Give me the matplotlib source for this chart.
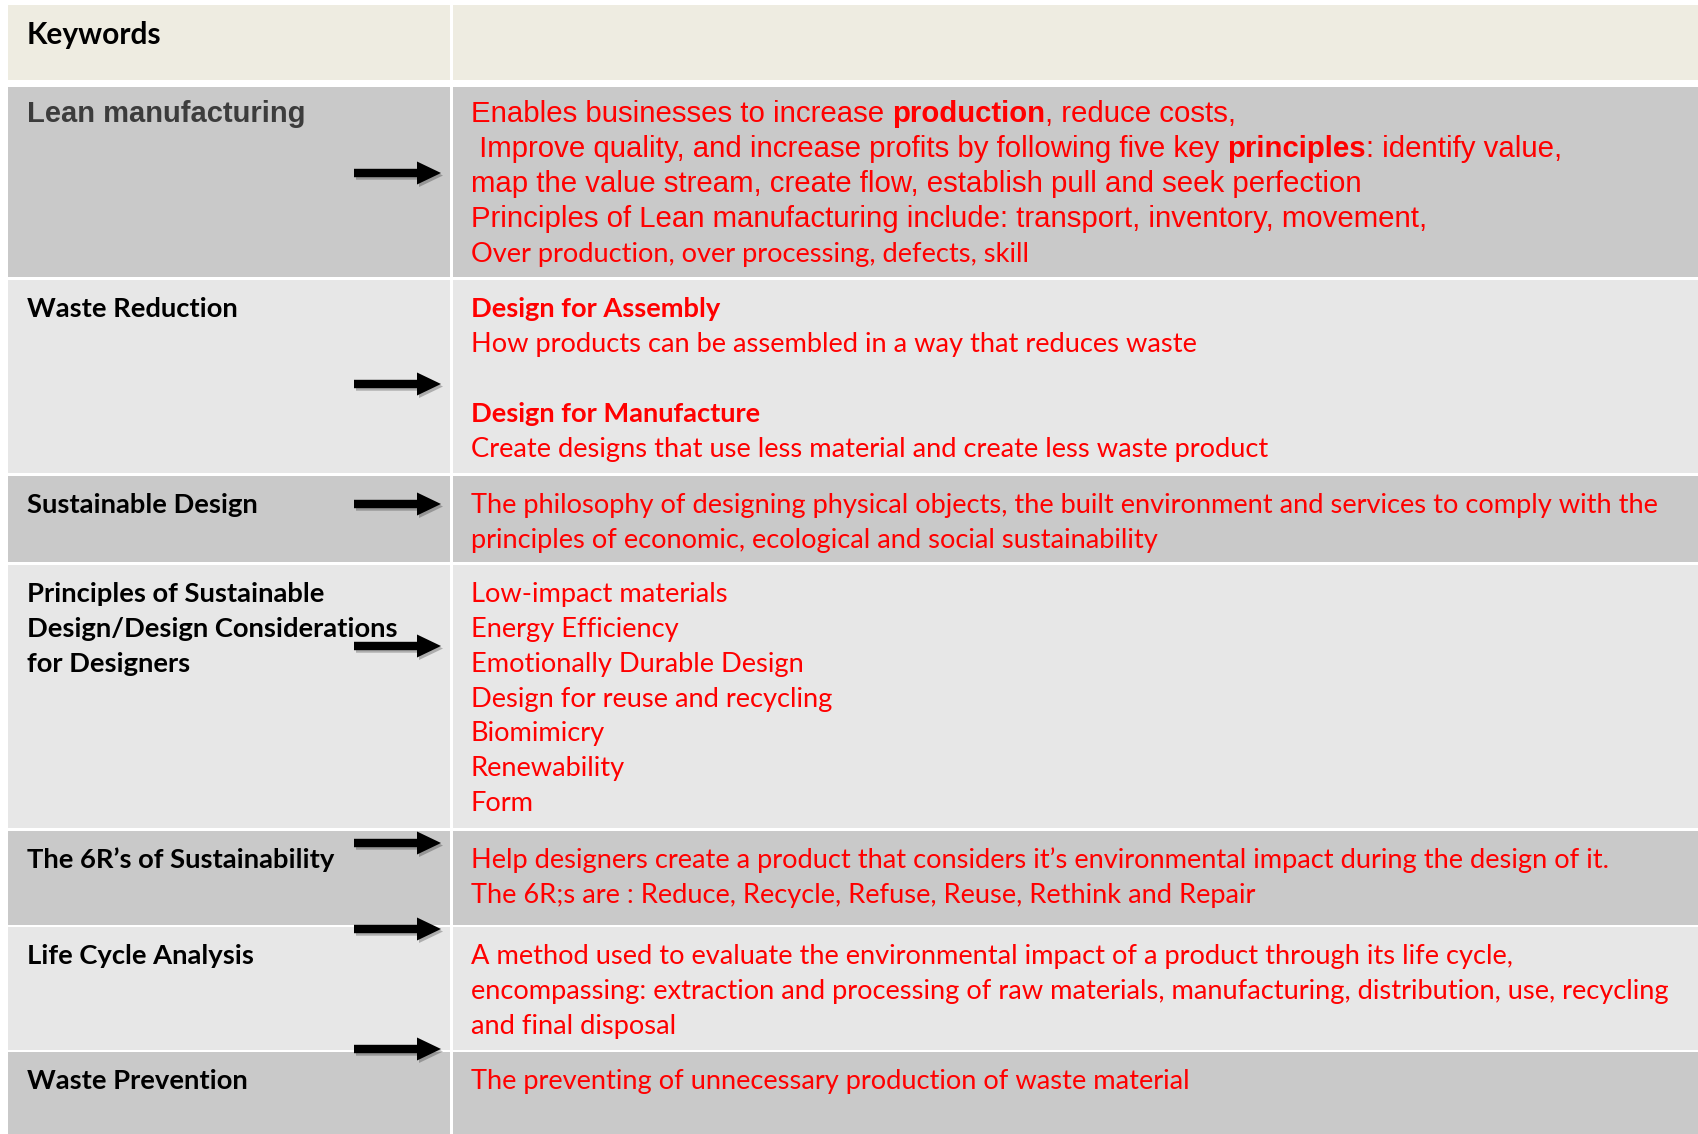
import matplotlib
matplotlib.use("Agg")
import matplotlib.pyplot as plt
from matplotlib.patches import Rectangle, Polygon

# ---------------- data ----------------
header_label = "Keywords"
keywords = [
    "Lean manufacturing",
    "Waste Reduction",
    "Sustainable Design",
    "Principles of Sustainable\nDesign/Design Considerations\nfor Designers",
    "The 6R\u2019s of Sustainability",
    "Life Cycle Analysis",
    "Waste Prevention",
]
# ** marks bold runs
descriptions = [
    ["Enables businesses to increase **production**, reduce costs,",
     " Improve quality, and increase profits by following five key **principles**: identify value,",
     "map the value stream, create flow, establish pull and seek perfection",
     "Principles of Lean manufacturing include: transport, inventory, movement,",
     "Over production, over processing, defects, skill"],
    ["**Design for Assembly**",
     "How products can be assembled in a way that reduces waste",
     "",
     "**Design for Manufacture**",
     "Create designs that use less material and create less waste product"],
    ["The philosophy of designing physical objects, the built environment and services to comply with the",
     "principles of economic, ecological and social sustainability"],
    ["Low-impact materials", "Energy Efficiency", "Emotionally Durable Design",
     "Design for reuse and recycling", "Biomimicry", "Renewability", "Form"],
    ["Help designers create a product that considers it\u2019s environmental impact during the design of it.",
     "The 6R;s are : Reduce, Recycle, Refuse, Reuse, Rethink and Repair"],
    ["A method used to evaluate the environmental impact of a product through its life cycle,",
     "encompassing: extraction and processing of raw materials, manufacturing, distribution, use, recycling",
     "and final disposal"],
    ["The preventing of unnecessary production of waste material"],
]
# font used per description line: "arial" or "calibri"
line_fonts = [
    ["arial", "arial", "arial", "arial", "calibri"],
    ["calibri"] * 5, ["calibri"] * 2, ["calibri"] * 7,
    ["calibri"] * 2, ["calibri"] * 3, ["calibri"],
]

# ---------------- layout / style ----------------
W, H = 1698, 1134
HEADER = (5, 80)
ROWS = [(87, 277), (280, 473), (476, 562), (565, 828), (831, 925), (927, 1050), (1052, 1134)]
ARROW_Y = [173, 384, 504, 646, 843, 929, 1049]
LEFT_X0, LEFT_X1, RIGHT_X0 = 8, 450, 453
C_HEADER = "#EEECE1"
C_DARK = "#C9C9C9"
C_LIGHT = "#E7E7E7"
RED = "#FF0000"
ARIAL = "Liberation Sans"
CALIBRI = "Lato"
SZ_ARIAL = 21.2
SZ_CAL = 19.6
SZ_KEY = 19.7
SZ_HEAD = 21.5
SZ_LEAN = 21
LINE_SP = 34.8

fig = plt.figure(figsize=(W / 100, H / 100), dpi=100)
fig.patch.set_facecolor("white")
ax = fig.add_axes([0, 0, 1, 1])
ax.set_xlim(0, W)
ax.set_ylim(H, 0)
ax.axis("off")
renderer = fig.canvas.get_renderer()


def adv(s, **kw):
    t1 = ax.text(0, 0, "|" + s + "|", **kw)
    t2 = ax.text(0, 0, "||", **kw)
    w = t1.get_window_extent(renderer).width - t2.get_window_extent(renderer).width
    t1.remove()
    t2.remove()
    return w


def draw_rich(x, y, line, family, size, color):
    parts = line.split("**")
    for i, p in enumerate(parts):
        if not p:
            continue
        kw = dict(fontfamily=family, fontsize=size,
                  fontweight="bold" if i % 2 else "normal")
        ax.text(x, y, p, color=color, va="baseline", ha="left", **kw)
        x += adv(p, **kw)


# cells
ax.add_patch(Rectangle((LEFT_X0, HEADER[0]), LEFT_X1 - LEFT_X0, HEADER[1] - HEADER[0],
                       facecolor=C_HEADER, edgecolor="none"))
ax.add_patch(Rectangle((RIGHT_X0, HEADER[0]), W - RIGHT_X0, HEADER[1] - HEADER[0],
                       facecolor=C_HEADER, edgecolor="none"))
for i, (y0, y1) in enumerate(ROWS):
    c = C_DARK if i % 2 == 0 else C_LIGHT
    ax.add_patch(Rectangle((LEFT_X0, y0), LEFT_X1 - LEFT_X0, y1 - y0, facecolor=c, edgecolor="none"))
    ax.add_patch(Rectangle((RIGHT_X0, y0), W - RIGHT_X0, y1 - y0, facecolor=c, edgecolor="none"))

# header text
ax.text(27, 44, header_label, fontfamily=CALIBRI, fontweight="bold", fontsize=SZ_HEAD,
        color="black", va="baseline")

# rows
for i, (y0, y1) in enumerate(ROWS):
    off = 34.7 if i == 0 else 37.3
    base = y0 + off
    # keyword
    for j, kl in enumerate(keywords[i].split("\n")):
        if i == 0:
            ax.text(27, base, kl, fontfamily=ARIAL, fontweight="bold", fontsize=SZ_LEAN,
                    color="#3C3C3C", va="baseline")
        else:
            ax.text(27, base + j * LINE_SP, kl, fontfamily=CALIBRI, fontweight="bold",
                    fontsize=SZ_KEY, color="black", va="baseline")
    # description
    sp = 35.0 if i == 0 else LINE_SP
    for j, line in enumerate(descriptions[i]):
        if not line:
            continue
        fam = ARIAL if line_fonts[i][j] == "arial" else CALIBRI
        sz = SZ_ARIAL if fam == ARIAL else SZ_CAL
        draw_rich(471, base + j * sp, line, fam, sz, RED)

# arrows
for ya in ARROW_Y:
    x0, xs, xt = 354, 417, 441
    hw, hh = 4.2, 11.5
    pts = [(x0, ya - hw), (xs, ya - hw), (xs, ya - hh), (xt, ya), (xs, ya + hh), (xs, ya + hw), (x0, ya + hw)]
    shadow = [(px + 2, py + 2.5) for px, py in pts]
    ax.add_patch(Polygon(shadow, closed=True, facecolor="#000000", alpha=0.25, edgecolor="none"))
    ax.add_patch(Polygon(pts, closed=True, facecolor="black", edgecolor="none"))

fig.savefig("out.png", dpi=100, facecolor="white")
